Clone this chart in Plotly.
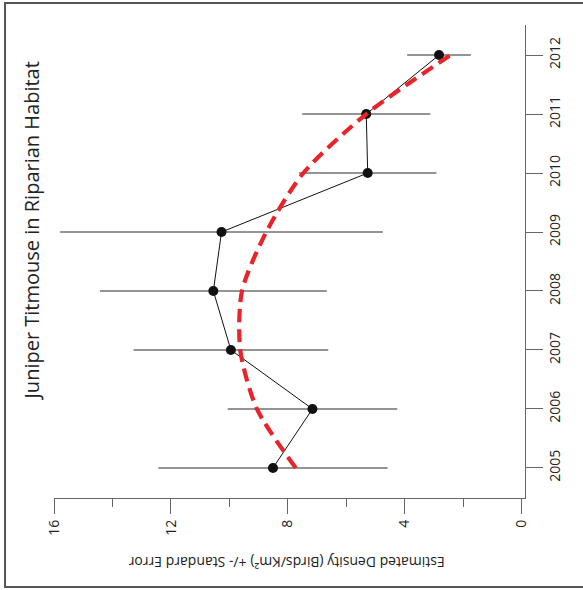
import plotly.graph_objects as go

# ---- data ----
years = [2005, 2006, 2007, 2008, 2009, 2010, 2011, 2012]
density = [8.51, 7.16, 9.95, 10.55, 10.27, 5.27, 5.32, 2.83]
std_err = [3.92, 2.90, 3.33, 3.88, 5.52, 2.35, 2.19, 1.09]
trend = [7.73, 9.06, 9.63, 9.57, 8.74, 7.47, 5.32, 2.44]
density_ticks = [0, 4, 8, 12, 16]
title_text = "Juniper Titmouse in Riparian Habitat"
axis_title = "Estimated Density (Birds/Km²) +/- Standard Error"

W, H = 583, 590
L, R, T, B = 53.5, 524.7, 25, 498
FONT = "Open Sans"


def px(xp):
    return (xp - L) / (R - L)


def py(yp):
    return (B - yp) / (B - T)


fig = go.Figure()

fig.add_trace(go.Scatter(
    x=density, y=years, mode="lines+markers",
    line=dict(color="#111111", width=1),
    marker=dict(color="#111111", size=10),
    error_x=dict(type="data", array=std_err, visible=True,
                 color="#707070", thickness=1.5, width=0),
    showlegend=False, hoverinfo="skip",
))

fig.add_trace(go.Scatter(
    x=trend, y=years, mode="lines",
    line=dict(color="#e8232a", width=4.2, dash="13px,7px",
              shape="spline", smoothing=0.75),
    showlegend=False, hoverinfo="skip",
))

axis_col = "#666666"
fig.update_xaxes(
    range=[16, -0.11], showgrid=False, zeroline=False,
    showline=True, linecolor=axis_col, linewidth=1.3,
    tickmode="array", tickvals=density_ticks,
    ticktext=[str(v) for v in density_ticks],
    ticks="outside", ticklen=15, tickcolor=axis_col, tickwidth=1.3,
    tickangle=-90, tickfont=dict(family=FONT, size=14, color="#222222"),
    minor=dict(tickvals=[2, 6, 10, 14], ticks="outside", ticklen=8,
               tickcolor=axis_col, tickwidth=1.3),
)
fig.update_yaxes(
    range=[2004.49, 2012.51], showgrid=False, zeroline=False,
    side="right", showline=True, linecolor=axis_col, linewidth=1.3,
    tickmode="array", tickvals=years, ticktext=[str(y) for y in years],
    ticks="outside", ticklen=17, tickcolor=axis_col, tickwidth=1.3,
    tickangle=-90, tickfont=dict(family=FONT, size=14, color="#222222"),
)

fig.add_annotation(
    x=px(30), y=py(231), xref="paper", yref="paper",
    text=title_text, showarrow=False, textangle=-90,
    xanchor="center", yanchor="middle",
    font=dict(family=FONT, size=20, color="#222222"),
)
fig.add_annotation(
    x=px(286), y=py(563), xref="paper", yref="paper",
    text=axis_title, showarrow=False, textangle=180,
    xanchor="center", yanchor="middle",
    font=dict(family=FONT, size=14, color="#222222"),
)

fig.add_shape(
    type="rect", xref="paper", yref="paper",
    x0=px(4.5), x1=px(600), y0=py(587), y1=py(3),
    line=dict(color="#555555", width=2),
)

fig.update_layout(
    width=W, height=H,
    margin=dict(l=L, r=W - R, t=T, b=H - B),
    paper_bgcolor="white", plot_bgcolor="white",
)

fig.write_html("out.html")
